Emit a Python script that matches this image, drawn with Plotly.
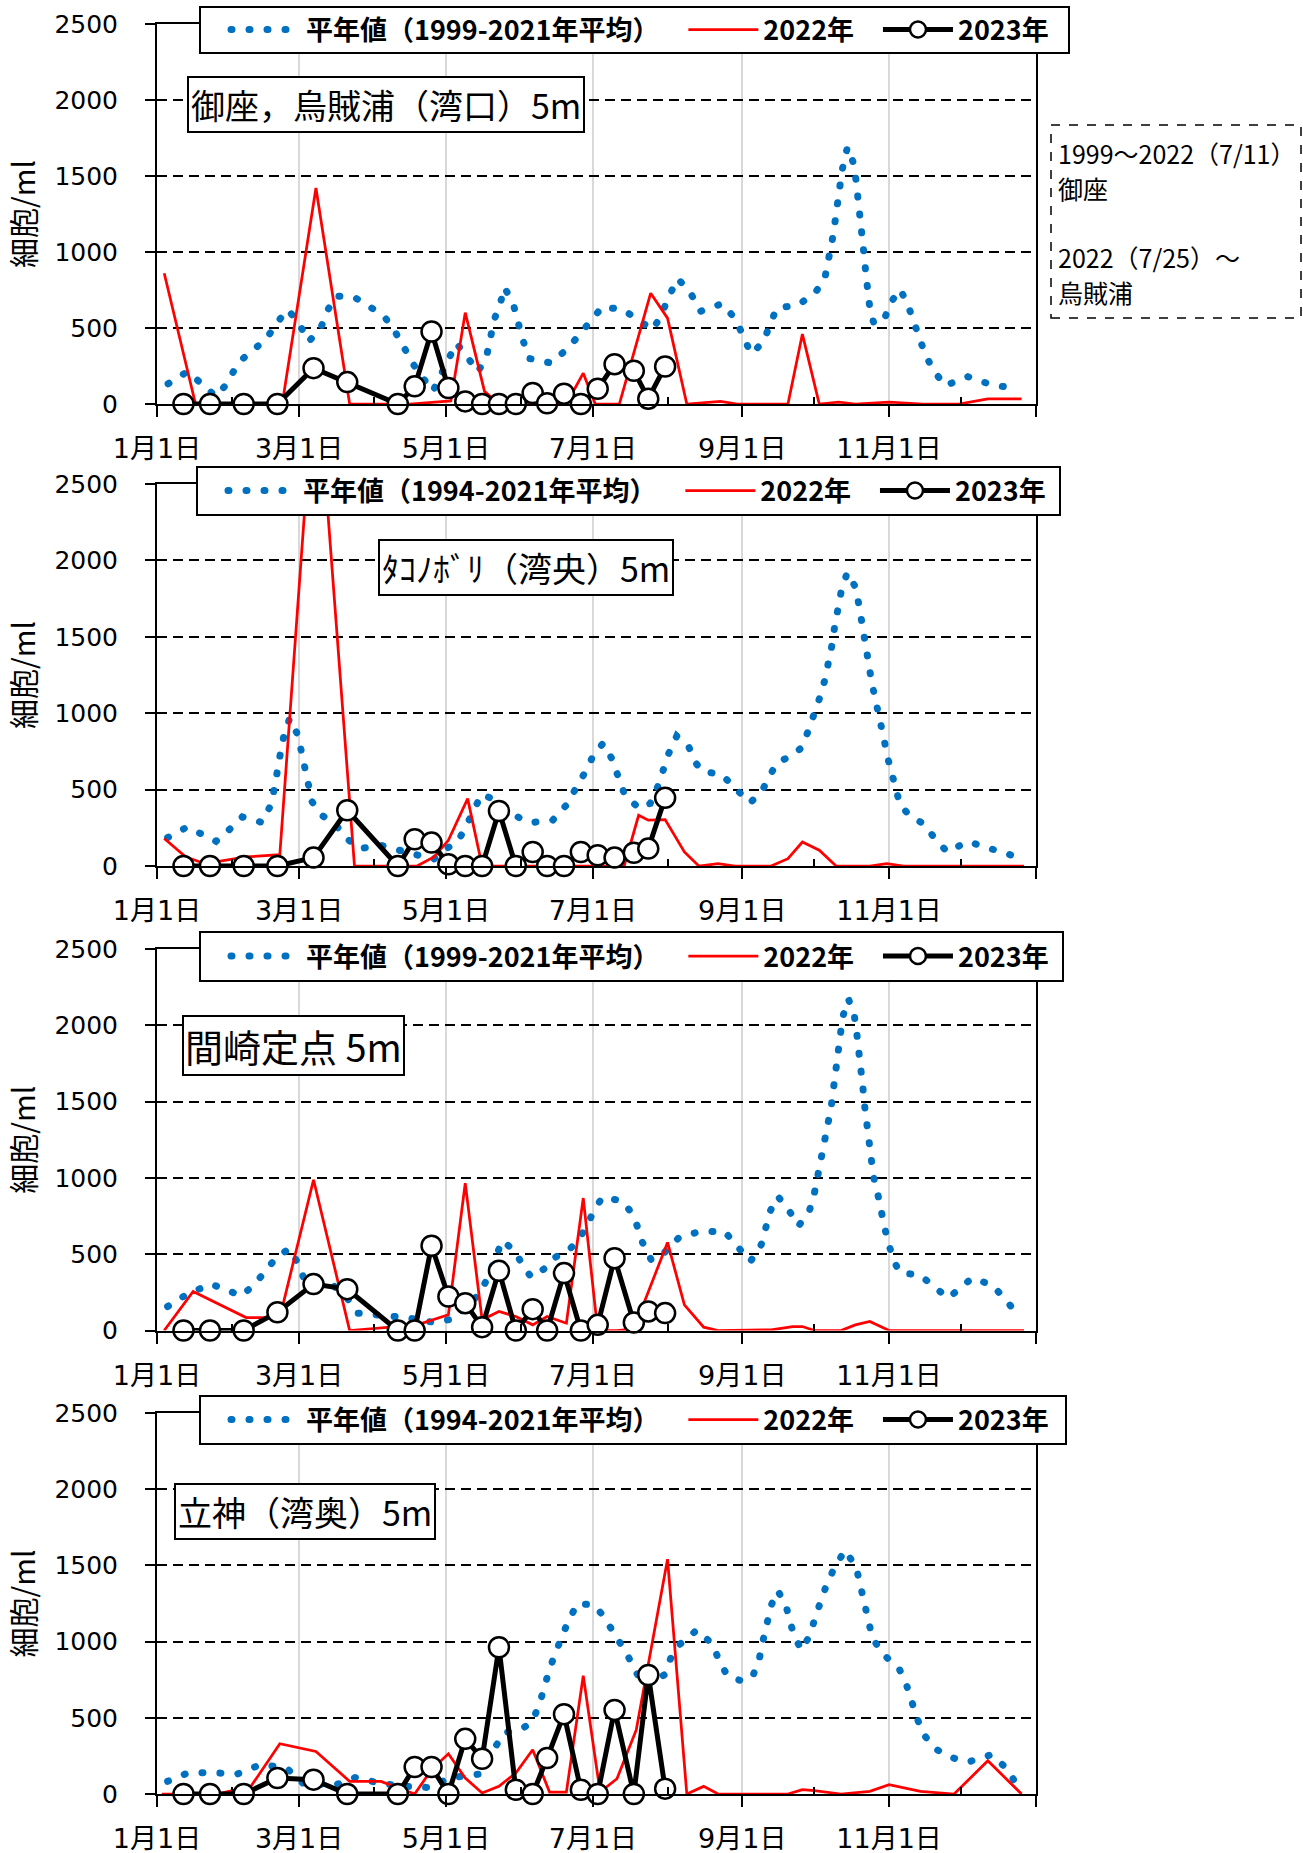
import plotly.graph_objects as go
import pandas as pd

FONT = "Noto Sans CJK JP, Noto Sans, sans-serif"
TICKFONT = "DejaVu Sans, Noto Sans CJK JP, sans-serif"
BASE = pd.Timestamp("2023-01-01")

# ---------------- data ----------------
tick_dates = ["2023-01-01", "2023-03-01", "2023-05-01", "2023-07-01", "2023-09-01", "2023-11-01", "2024-01-01"]
tick_labels = ["1月1日", "3月1日", "5月1日", "7月1日", "9月1日", "11月1日", ""]
minor_dates = ["2023-02-01", "2023-04-01", "2023-06-01", "2023-08-01", "2023-10-01", "2023-12-01"]
y_ticks = [0, 500, 1000, 1500, 2000, 2500]

titles = ["御座，烏賊浦（湾口）5m", "ﾀｺﾉﾎﾞﾘ（湾央）5m", "間崎定点 5m", "立神（湾奥）5m"]
mean_names = ["平年値（1999-2021年平均）", "平年値（1994-2021年平均）",
              "平年値（1999-2021年平均）", "平年値（1994-2021年平均）"]
name_2022 = "2022年"
name_2023 = "2023年"
note_lines = ["1999～2022（7/11）", "御座", "2022（7/25）～", "烏賊浦"]

# 2023 sampling dates (shared by all stations)
d2023 = ["2023-01-12", "2023-01-23", "2023-02-06", "2023-02-20", "2023-03-07", "2023-03-21",
         "2023-04-11", "2023-04-18", "2023-04-25", "2023-05-02", "2023-05-09", "2023-05-16",
         "2023-05-23", "2023-05-30", "2023-06-06", "2023-06-12", "2023-06-19", "2023-06-26",
         "2023-07-03", "2023-07-10", "2023-07-18", "2023-07-24", "2023-07-31"]
v2023_p1 = [0, 0, 0, 0, 236, 144, 0, 116, 477, 105, 17, 0, 0, 0, 72, 5, 68, 0, 100, 262, 219, 35, 247]
v2023_p2 = [0, 0, 0, 0, 55, 365, 0, 175, 153, 11, 0, 0, 360, 0, 92, 0, 0, 92, 70, 55, 87, 114, 446]
v2023_p3 = [0, 0, 0, 120, 304, 271, 0, 0, 555, 223, 179, 22, 391, 0, 140, 0, 376, 0, 37, 474, 52, 125, 114]
v2023_p4 = [0, 0, 0, 105, 94, 0, 0, 177, 177, 0, 362, 231, 963, 28, 0, 236, 524, 28, 0, 552, 0, 781, 35]

# 2022 (day of year offset from Jan 1)
d2022_p1 = [3, 16, 52, 66, 80, 105, 122, 128, 136, 142, 170, 177, 182, 192, 205, 212, 220, 234, 241,
            262, 268, 275, 283, 290, 304, 318, 333, 345, 359]
v2022_p1 = [860, 0, 0, 1421, 0, 0, 20, 601, 83, 0, 0, 203, 0, 0, 729, 565, 0, 17, 0,
            0, 460, 0, 13, 0, 13, 0, 0, 33, 33]
d2022_p2 = [3, 12, 20, 28, 37, 51, 66, 82, 108, 115, 121, 129, 135, 194, 200, 204, 211, 219, 225,
            233, 240, 255, 262, 268, 275, 282, 296, 303, 310, 360]
v2022_p2 = [180, 59, 15, 37, 59, 74, 3350, 0, 0, 59, 168, 441, 0, 0, 332, 300, 304, 92, 0,
            15, 0, 0, 48, 157, 103, 0, 0, 15, 0, 0]
d2022_p3 = [3, 15, 37, 51, 65, 80, 108, 121, 128, 135, 142, 149, 156, 162, 170, 177, 183, 191, 198,
            212, 219, 227, 233, 255, 264, 268, 273, 284, 290, 296, 304, 360]
v2022_p3 = [0, 256, 85, 85, 988, 0, 37, 103, 966, 70, 125, 92, 37, 92, 48, 868, 0, 0, 10,
            577, 168, 22, 0, 4, 26, 26, 0, 0, 37, 59, 0, 0]
d2022_p4 = [2, 15, 25, 39, 51, 66, 80, 93, 100, 107, 114, 121, 128, 135, 142, 149, 156, 163, 170,
            177, 184, 191, 199, 212, 220, 227, 233, 262, 268, 273, 284, 296, 304, 317, 331, 345, 359]
v2022_p4 = [0, 0, 0, 50, 330, 279, 83, 83, 39, 0, 160, 264, 105, 7, 50, 138, 290, 13, 13,
            777, 13, 100, 420, 1541, 0, 50, 0, 0, 28, 22, 0, 17, 61, 17, 0, 218, 0]

# normal-year mean (day of year offset from Jan 1)
dmean_p1 = [4.6, 12.5, 19.1, 24.3, 29.1, 32.8, 35.4, 41, 45.3, 49.4, 54.2, 58.8, 62.9, 67.9, 70.4, 74.2,
            82.2, 90.4, 94.9, 99, 103.7, 107, 114.5, 120.8, 124.3, 129, 133.3, 137, 138.4, 140, 142.7,
            144.2, 147.8, 149.5, 151.6, 154.5, 163.6, 170.7, 175, 179.5, 185, 193.6, 201.2, 205.8,
            209.5, 212.3, 216.2, 221.2, 225.7, 234.6, 240.2, 243, 246.7, 251.7, 254.2, 257.3, 266.2,
            273.3, 277.4, 279.3, 280.4, 281.5, 282.4, 283.4, 284.5, 286.7, 289.5, 290.4, 291.4, 292.1,
            292.8, 293.6, 294.3, 295.1, 296, 297.7, 302, 304.7, 308.6, 311.8, 314.2, 316.5, 318.7,
            322, 327.2, 336.7, 346.8, 355.9]
vmean_p1 = [133, 212, 127, 50, 133, 247, 295, 367, 426, 525, 622, 536, 410, 494, 604, 711,
            700, 619, 564, 472, 350, 247, 83, 295, 400, 306, 210, 324, 437, 553, 670,
            768, 667, 553, 437, 300, 270, 367, 448, 540, 640, 620, 532, 488,
            587, 700, 825, 740, 610, 660, 560, 449, 330, 407, 520, 630, 652,
            730, 834, 960, 1080, 1194, 1312, 1426, 1540, 1690, 1572, 1452, 1331, 1215,
            1097, 981, 865, 747, 630, 528, 558, 668, 755, 652, 543, 427, 339,
            232, 120, 180, 125, 105]
dmean_p2 = [4.4, 12.5, 20.4, 24.5, 30, 35.4, 43.6, 47.4, 48.9, 49.9, 51.4, 52.9, 55.1, 58.5, 60, 61,
            62.5, 64.4, 68.8, 73.8, 78.7, 84.2, 93, 102.3, 110.4, 114.9, 119.6, 124.8, 128.2, 131.4,
            134.8, 140.7, 145.4, 151, 155.5, 164.3, 170.2, 175, 178.7, 181.8, 185.3, 188.8, 191.2,
            194.1, 200.2, 204.8, 207.9, 210, 212.5, 215.8, 220.9, 223.9, 226.3, 234.5, 240.9, 246.3,
            251.5, 254.6, 257.3, 264.1, 267.6, 270.3, 273, 275.2, 277.3, 279, 280.3, 281.4, 282.7,
            284.1, 286.6, 290.1, 291.5, 292.9, 294.3, 295.2, 296.8, 298.9, 300.5, 301.9, 303.3, 305,
            306.8, 308.6, 313.3, 318.3, 322.8, 328.1, 336.7, 346.9, 355.8]
vmean_p2 = [186, 255, 195, 162, 238, 321, 285, 404, 522, 634, 752, 868, 966, 857, 743, 627,
            512, 420, 328, 278, 180, 114, 135, 100, 66, 44, 109, 157, 256, 370,
            470, 430, 365, 310, 284, 300, 402, 540, 638, 748, 802, 704, 595,
            470, 376, 409, 518, 623, 737, 850, 776, 671, 621, 598, 500, 412,
            500, 605, 675, 726, 774, 879, 988, 1102, 1217, 1333, 1447, 1567, 1681,
            1797, 1920, 1823, 1705, 1589, 1473, 1355, 1200, 1060, 944, 828, 715, 601,
            485, 398, 317, 278, 184, 92, 160, 110, 66]
dmean_p3 = [4.4, 12.2, 22.4, 30.7, 35.1, 40.6, 45, 49.7, 55, 58.7, 61.2, 72.3, 79.6, 83.3, 92.6, 103.2,
            114.3, 123, 134.2, 137.2, 143.4, 149, 152.2, 155.6, 161.2, 165.5, 171.8, 175.2, 178.9,
            181.9, 185.1, 192.7, 196.1, 199.3, 201.6, 205.3, 210.9, 216.8, 225.3, 235.6, 241.3, 246.4,
            250.9, 252.9, 254.7, 257.8, 262, 266.4, 270.9, 272.9, 274.4, 276.1, 277.5, 278.9, 280,
            280.9, 281.8, 282.6, 283.7, 284.7, 287.1, 289.6, 290.6, 291.6, 292.4, 293.1, 293.8, 294.7,
            295.7, 296.5, 297.5, 299.3, 300.5, 302.3, 304.1, 306.4, 308.5, 316.9, 323.4, 328.5, 334,
            338.4, 346.7, 353.3, 357.7]
vmean_p3 = [157, 235, 305, 256, 227, 304, 391, 481, 536, 437, 332, 310, 200, 114, 100, 85,
            55, 75, 245, 343, 590, 514, 413, 348, 409, 481, 540, 595, 700,
            802, 874, 850, 791, 689, 577, 460, 514, 610, 648, 650, 546, 452,
            562, 671, 785, 879, 798, 685, 785, 894, 1010, 1126, 1240, 1355, 1469,
            1585, 1703, 1819, 1935, 2053, 2173, 2059, 1943, 1825, 1709, 1594, 1476, 1360,
            1244, 1126, 1010, 894, 776, 665, 551, 442, 380, 362, 278, 212, 284,
            343, 300, 186, 92]
dmean_p4 = [4.4, 12.8, 22.6, 33.3, 43.2, 53.8, 60.5, 73.7, 82.3, 92.8, 101.5, 113.6, 121.4, 133.5,
            141.9, 143.8, 151.6, 155.6, 158.6, 160.5, 162.7, 165.2, 167.8, 170.8, 174.6, 181.4, 185.1,
            189.2, 192.8, 195.4, 198.4, 203, 210.6, 213.3, 216.8, 224.1, 230.6, 233.3, 236.8, 243.4,
            247.6, 250.2, 251.7, 253.3, 255.1, 257.8, 261.2, 263, 265.3, 267.8, 271.3, 273.3, 275.7,
            277.5, 280.5, 285.6, 290.3, 292, 293.3, 294.7, 297.1, 302.3, 308.1, 311.3, 313.3, 315.7,
            318.4, 323.3, 328.2, 336.8, 346.4, 353.1, 356.8]
vmean_p4 = [83, 138, 140, 131, 194, 170, 72, 57, 108, 70, 52, 42, 105, 130,
            345, 400, 428, 472, 578, 690, 803, 917, 1028, 1135, 1250, 1240, 1174,
            1076, 974, 912, 810, 705, 781, 890, 978, 1075, 985, 880, 777, 738,
            781, 895, 1011, 1124, 1240, 1334, 1236, 1120, 1011, 945, 1050, 1159, 1273,
            1349, 1458, 1600, 1491, 1377, 1262, 1148, 1020, 906, 825, 712, 602, 493,
            389, 297, 247, 210, 258, 164, 65]


def to_dates(days):
    return [BASE + pd.Timedelta(days=float(d)) for d in days]


panels = [
    (dmean_p1, vmean_p1, d2022_p1, v2022_p1, v2023_p1),
    (dmean_p2, vmean_p2, d2022_p2, v2022_p2, v2023_p2),
    (dmean_p3, vmean_p3, d2022_p3, v2022_p3, v2023_p3),
    (dmean_p4, vmean_p4, d2022_p4, v2022_p4, v2023_p4),
]

# ---------------- layout geometry (pixels) ----------------
W, H = 1303, 1853
ML, MR, MT, MB = 157, 267, 24, 59
ph = H - MT - MB
pw = W - ML - MR


def py(pix):  # pixel y (from top) -> paper
    return (H - MB - pix) / ph


def px(pix):
    return (pix - ML) / pw


panel_px = [(24, 404), (484, 866), (949, 1330.5), (1413, 1794)]
legend_box = [(200, 1069, 7, 53), (197, 1060, 467, 515), (200, 1063, 932, 981), (200, 1066, 1396, 1444)]
title_px = [(386, 104), (526, 568), (293, 1045.5), (305, 1511)]
title_size = [34, 34, 38, 34]
title_pad = [2, 2, 1, 2]
note_y = [153, 188, 257, 292]

BLUE = "#0070C0"
DOT = "1px,17px"
GAP = "\u2002\u2009"   # extra space after a legend entry

fig = go.Figure()
for i, (dm, vm, d22, v22, v23) in enumerate(panels, start=1):
    sfx = "" if i == 1 else str(i)
    xa, ya, lg = "x" + sfx, "y" + sfx, "legend" + sfx
    fig.add_trace(go.Scatter(x=to_dates(dm), y=vm, mode="lines", name=mean_names[i - 1] + GAP,
                             line=dict(color=BLUE, width=7, dash=DOT),
                             xaxis=xa, yaxis=ya, legend=lg))
    fig.add_trace(go.Scatter(x=to_dates(d22), y=v22, mode="lines", name=name_2022 + GAP,
                             line=dict(color="#FF0000", width=2.75),
                             xaxis=xa, yaxis=ya, legend=lg))
    fig.add_trace(go.Scatter(x=d2023, y=v23, mode="lines+markers", name=name_2023,
                             line=dict(color="black", width=5),
                             marker=dict(symbol="circle", size=20, color="white",
                                         line=dict(color="black", width=2.5)),
                             cliponaxis=False,
                             xaxis=xa, yaxis=ya, legend=lg))

    top, bot = panel_px[i - 1]
    fig.layout["xaxis" + sfx] = dict(
        type="date", range=["2023-01-01", "2024-01-01"], anchor=ya, domain=[0, 1],
        automargin=False,
        tickmode="array", tickvals=tick_dates, ticktext=tick_labels,
        ticks="outside", ticklen=11, tickwidth=2, tickcolor="black",
        showline=True, linecolor="black", linewidth=2, mirror=True,
        showgrid=True, gridcolor="#D9D9D9", gridwidth=2,
        tickfont=dict(family=TICKFONT, size=27, color="black"), ticklabelstandoff=9,
        minor=dict(tickmode="array", tickvals=minor_dates, ticks="inside", ticklen=7,
                   tickwidth=2, tickcolor="black", showgrid=False),
    )
    fig.layout["yaxis" + sfx] = dict(
        domain=[py(bot), py(top)], anchor=xa, range=[0, 2500], automargin=False,
        tickmode="array", tickvals=y_ticks,
        ticks="outside", ticklen=10, tickwidth=2, tickcolor="black",
        showline=True, linecolor="black", linewidth=2, mirror=True,
        showgrid=True, gridcolor="black", gridwidth=2, griddash="10px,6px",
        zeroline=False,
        tickfont=dict(family=TICKFONT, size=25, color="black"), ticklabelstandoff=22,
        title=dict(text="細胞/ml", font=dict(family=FONT, size=30, color="black"), standoff=14),
    )
    # legend frame + transparent legend on top of it
    bx0, bx1, by0, by1 = legend_box[i - 1]
    fig.add_shape(type="rect", xref="paper", yref="paper",
                  x0=px(bx0), x1=px(bx1), y0=py(by1), y1=py(by0),
                  line=dict(color="black", width=2), fillcolor="white", layer="above")
    fig.layout[lg] = dict(
        x=px(bx0 + 26), y=py((by0 + by1) / 2), xanchor="left", yanchor="middle", orientation="h",
        bgcolor="rgba(0,0,0,0)", borderwidth=0,
        font=dict(family=FONT, size=27, color="black", weight="bold"),
        itemwidth=70, valign="middle",
    )
    tx, ty = title_px[i - 1]
    fig.add_annotation(text=titles[i - 1], xref="paper", yref="paper", x=px(tx), y=py(ty),
                       xanchor="center", yanchor="middle", showarrow=False,
                       font=dict(family=FONT, size=title_size[i - 1], color="black"),
                       bgcolor="white", bordercolor="black", borderwidth=2,
                       borderpad=title_pad[i - 1])

# note box on the right of panel 1
fig.add_shape(type="rect", xref="paper", yref="paper",
              x0=px(1051), x1=px(1301), y0=py(318), y1=py(125),
              line=dict(color="black", width=1.5, dash="dash"), fillcolor="white", layer="above")
for line_text, ly in zip(note_lines, note_y):
    fig.add_annotation(text=line_text, xref="paper", yref="paper",
                       x=px(1057), y=py(ly), xanchor="left", yanchor="middle", align="left",
                       showarrow=False, borderpad=0,
                       font=dict(family=FONT, size=25, color="black"))

fig.update_layout(
    width=W, height=H, margin=dict(l=ML, r=MR, t=MT, b=MB, autoexpand=False),
    paper_bgcolor="white", plot_bgcolor="white", showlegend=True,
    font=dict(family=FONT, color="black"),
)

post = """
document.body.style.margin = '0';
document.body.style.padding = '0';
var gd = document.getElementById('{plot_id}');
function roundDots(){
  gd.querySelectorAll('path').forEach(function(p){
    var d = (p.style.strokeDasharray || '').replace(/\\s/g, '');
    if (d.indexOf('1px,17px') === 0) { p.style.strokeLinecap = 'round'; }
  });
}
roundDots();
gd.on('plotly_afterplot', roundDots);
"""
fig.write_html("out.html", post_script=post, config={"displayModeBar": False})
